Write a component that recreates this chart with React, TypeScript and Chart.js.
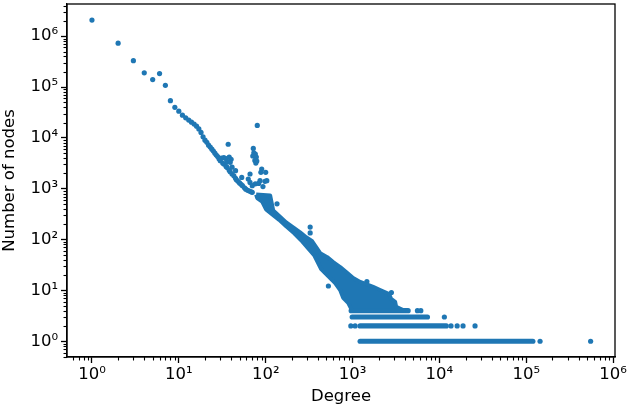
import React, { useEffect, useRef } from "react";
import { Chart, registerables } from "chart.js";

Chart.register(...registerables);

// Main descending curve (degree, number of nodes)
const curveDegree = [1, 2, 3, 4, 5, 6, 7, 8, 9, 10, 11, 12, 13, 14, 15, 16, 17, 18, 19, 20, 21, 22, 23, 24, 25, 26, 27, 28, 29, 30, 32, 33, 35, 36, 38, 39, 41, 43, 45, 46, 48, 50, 52, 54, 57, 59, 62, 65, 68, 70];
const curveCount = [2.08e6, 7.3e5, 3.3e5, 1.9e5, 1.4e5, 1.84e5, 1.08e5, 5.4e4, 4.0e4, 3.35e4, 2.8e4, 2.48e4, 2.24e4, 2.04e4, 1.87e4, 1.7e4, 1.5e4, 1.28e4, 1.05e4, 9.0e3, 8.2e3, 7.2e3, 6.6e3, 6.0e3, 5.5e3, 5.0e3, 4.6e3, 4.3e3, 3.9e3, 3.55e3, 3.2e3, 3.05e3, 2.75e3, 2.62e3, 2.3e3, 2.16e3, 1.95e3, 1.8e3, 1.6e3, 1.5e3, 1.4e3, 1.3e3, 1.22e3, 1.15e3, 1.04e3, 980, 930, 900, 870, 850];

// Spikes and scattered outliers above / beside the main curve
const spikeDegree = [37, 80, 31, 33, 35, 38, 40, 36, 39, 41, 45, 72, 73, 76, 71, 78, 75, 79, 77, 90, 100, 88, 103, 66, 63, 66, 86, 83, 76, 98, 70, 93, 53, 135, 325, 325, 527, 1462, 2800];
const spikeCount = [7500, 17600, 4000, 4100, 3900, 4200, 3800, 3400, 3300, 2650, 2260, 6200, 5100, 4800, 4400, 4200, 3600, 3500, 3200, 2440, 2100, 2100, 1440, 1950, 1550, 1330, 1440, 1270, 1250, 1400, 1150, 1100, 1670, 505, 176, 135, 12.2, 14.9, 9.1];

// Outline of the dense cloud of points (degree 75 .. 4000)
const blobDegree = [77.7, 112.7, 115.7, 122, 143, 172, 207, 249, 292, 343, 424, 510, 598, 720, 844, 1016, 1223, 1726, 2078, 2638, 2781, 3092, 3175, 3925, 990, 890, 780, 720, 631, 524, 435, 361, 300, 256, 213, 172, 143, 119, 101, 91.1, 79.8, 77.7];
const blobCount = [767, 733, 586, 373, 292, 218, 174, 139, 111, 92.6, 54, 45.1, 36, 28.8, 23, 17.5, 14.7, 11.7, 10.2, 8.5, 6.8, 5.96, 4.76, 4, 4, 5.7, 7.14, 10.2, 14, 19.2, 26.3, 49.4, 70.7, 96.9, 133, 182, 244, 312, 391, 560, 655, 767];

// Dense horizontal rows of points at small counts
const rowCount = [1, 2, 3, 4];
const rowStart = [1222, 1220, 990, 964];
const rowEnd = [1.19e5, 12000, 7280, 4360];

// Isolated points at the ends of the rows
const rowDotDegree = [1.44e5, 5.5e5, 955, 1070, 13600, 16000, 18700, 25700, 11400, 5580, 6110];
const rowDotCount = [1, 1, 2, 2, 2, 2, 2, 2, 3, 4, 4];

// Axis ticks
const xMajorTicks = [1, 10, 100, 1000, 1e4, 1e5, 1e6];
const xTickLabels = ["10⁰", "10¹", "10²", "10³", "10⁴", "10⁵", "10⁶"];
const yMajorTicks = [1, 10, 100, 1000, 1e4, 1e5, 1e6];
const yTickLabels = ["10⁰", "10¹", "10²", "10³", "10⁴", "10⁵", "10⁶"];
const minorMultipliers = [2, 3, 4, 5, 6, 7, 8, 9];

const BLUE = "#1f77b4";
const FONT = "DejaVu Sans";

const framePlugin = {
  id: "frameAndMinor",
  afterDraw(chart: any) {
    const { ctx, chartArea } = chart;
    const { left, right, top, bottom } = chartArea;
    const xs = chart.scales.x;
    const ys = chart.scales.y;
    ctx.save();
    ctx.strokeStyle = "#000";
    ctx.lineWidth = 1.1;
    for (let d = -1; d <= 6; d++) {
      for (const m of minorMultipliers) {
        const v = m * Math.pow(10, d);
        if (v > xs.min && v < xs.max) {
          const px = Math.round(xs.getPixelForValue(v)) + 0.5;
          ctx.beginPath();
          ctx.moveTo(px, bottom);
          ctx.lineTo(px, bottom + 3.5);
          ctx.stroke();
        }
        if (v > ys.min && v < ys.max) {
          const py = Math.round(ys.getPixelForValue(v)) + 0.5;
          ctx.beginPath();
          ctx.moveTo(left, py);
          ctx.lineTo(left - 3.5, py);
          ctx.stroke();
        }
      }
    }
    ctx.lineWidth = 1.3;
    ctx.strokeRect(left, top, right - left, bottom - top);
    ctx.restore();
  },
};

export default function App() {
  const ref = useRef<HTMLCanvasElement | null>(null);

  useEffect(() => {
    if (!ref.current) return;
    const points = [
      ...curveDegree.map((x, i) => ({ x, y: curveCount[i] })),
      ...spikeDegree.map((x, i) => ({ x, y: spikeCount[i] })),
      ...rowDotDegree.map((x, i) => ({ x, y: rowDotCount[i] })),
    ];
    const blob = blobDegree.map((x, i) => ({ x, y: blobCount[i] }));
    const rowSets = rowCount.map((c, i) => ({
      data: [
        { x: rowStart[i], y: c },
        { x: rowEnd[i], y: c },
      ],
      showLine: true,
      borderColor: BLUE,
      borderWidth: 5.2,
      borderCapStyle: "round",
      pointRadius: 0,
      fill: false,
    }));

    const chart = new Chart(ref.current, {
      type: "scatter",
      data: {
        datasets: [
          {
            data: blob,
            showLine: true,
            borderColor: BLUE,
            backgroundColor: BLUE,
            borderWidth: 4,
            borderJoinStyle: "round",
            pointRadius: 0,
            fill: "shape",
            tension: 0,
          } as any,
          ...(rowSets as any[]),
          {
            data: points,
            backgroundColor: BLUE,
            borderWidth: 0,
            pointRadius: 2.6,
          },
        ],
      },
      options: {
        responsive: false,
        animation: false,
        devicePixelRatio: 1,
        layout: { padding: { left: 0, right: 13, top: 2, bottom: 0 } },
        plugins: { legend: { display: false }, tooltip: { enabled: false } },
        scales: {
          x: {
            type: "logarithmic",
            position: "bottom",
            min: 0.516,
            max: 1.05e6,
            afterBuildTicks: (s: any) => {
              s.ticks = xMajorTicks.map((v) => ({ value: v }));
            },
            afterFit: (s: any) => {
              s.height = 53;
              s.paddingLeft = 0;
              s.paddingRight = 0;
            },
            ticks: {
              autoSkip: false,
              maxRotation: 0,
              padding: 2,
              color: "#000",
              font: { family: FONT, size: 16.5 },
              callback: (_v: any, i: number) => xTickLabels[i],
            },
            grid: {
              drawOnChartArea: false,
              drawTicks: true,
              tickLength: 6,
              tickWidth: 1.3,
              tickColor: "#000",
            },
            border: { display: true, color: "#000", width: 1.3 },
            title: {
              display: true,
              text: "Degree",
              color: "#000",
              font: { family: FONT, size: 16.5 },
              padding: { top: 0, bottom: 3 },
            },
          },
          y: {
            type: "logarithmic",
            position: "left",
            min: 0.49,
            max: 4.3e6,
            afterBuildTicks: (s: any) => {
              s.ticks = yMajorTicks.map((v) => ({ value: v }));
            },
            afterFit: (s: any) => {
              s.width = 67;
              s.paddingTop = 0;
              s.paddingBottom = 0;
            },
            ticks: {
              autoSkip: false,
              padding: 3,
              color: "#000",
              font: { family: FONT, size: 16.5 },
              callback: (_v: any, i: number) => yTickLabels[i],
            },
            grid: {
              drawOnChartArea: false,
              drawTicks: true,
              tickLength: 6,
              tickWidth: 1.3,
              tickColor: "#000",
            },
            border: { display: true, color: "#000", width: 1.3 },
            title: {
              display: true,
              text: "Number of nodes",
              color: "#000",
              font: { family: FONT, size: 16.5 },
              padding: { top: 0, bottom: 0 },
            },
          },
        },
      },
      plugins: [framePlugin],
    } as any);
    return () => chart.destroy();
  }, []);

  return (
    <div style={{ position: "absolute", left: 0, top: 0, width: 628, height: 410, background: "#fff" }}>
      <canvas ref={ref} width={628} height={410} style={{ width: 628, height: 410 }} />
    </div>
  );
}
